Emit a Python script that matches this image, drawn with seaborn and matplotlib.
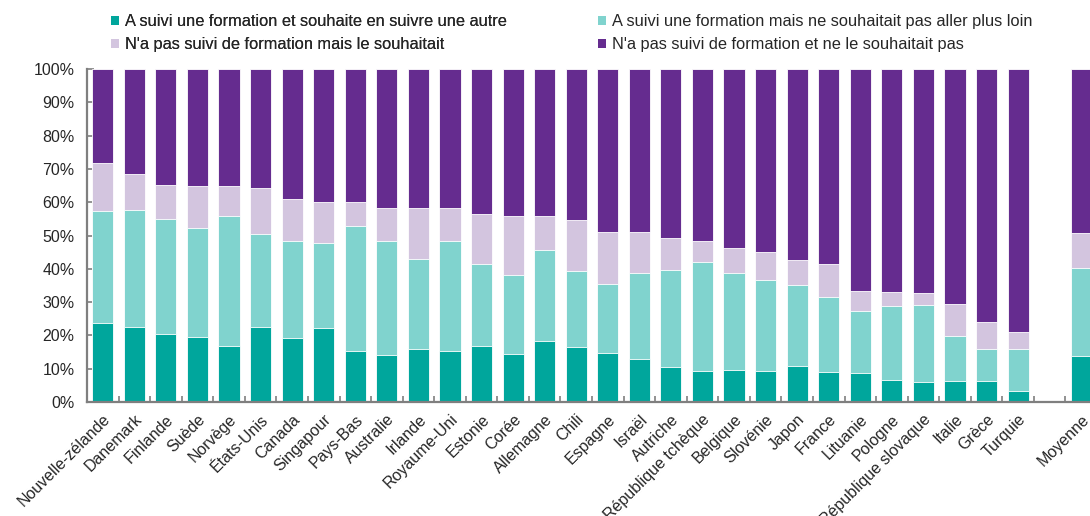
import numpy as np
import pandas as pd
import matplotlib
matplotlib.use("Agg")
import matplotlib.pyplot as plt
from matplotlib.patches import Patch
from matplotlib.ticker import FixedLocator, PercentFormatter
import seaborn as sns

countries = ["Nouvelle-zélande", "Danemark", "Finlande", "Suède", "Norvège", "États-Unis",
             "Canada", "Singapour", "Pays-Bas", "Australie", "Irlande", "Royaume-Uni",
             "Estonie", "Corée", "Allemagne", "Chili", "Espagne", "Israël", "Autriche",
             "République tchèque", "Belgique", "Slovénie", "Japon", "France", "Lituanie",
             "Pologne", "République slovaque", "Italie", "Grèce", "Turquie", "Moyenne"]

formation_et_autre = [23.6, 22.6, 20.3, 19.5, 16.8, 22.6, 19.1, 22.2, 15.2, 14.0, 15.9, 15.2,
                      16.8, 14.4, 18.3, 16.4, 14.7, 12.8, 10.5, 9.4, 9.7, 9.4, 10.9, 9.0,
                      8.6, 6.7, 5.9, 6.3, 6.3, 3.2, 13.7]
formation_pas_plus = [33.8, 35.1, 34.8, 32.8, 39.1, 27.8, 29.3, 25.5, 37.6, 34.4, 27.1, 33.2,
                      24.7, 23.6, 27.4, 22.8, 20.6, 26.0, 29.1, 32.5, 29.1, 27.1, 24.1, 22.5,
                      18.7, 22.1, 23.3, 13.6, 9.6, 12.7, 26.6]
pas_formation_souhait = [14.3, 10.9, 10.0, 12.5, 8.9, 14.0, 12.5, 12.4, 7.3, 9.8, 15.2, 9.8,
                         15.1, 17.9, 10.2, 15.5, 15.8, 12.3, 9.6, 6.5, 7.3, 8.5, 7.6, 10.0,
                         6.1, 4.2, 3.4, 9.6, 8.2, 5.1, 10.5]
pas_formation_pas_souhait = [28.3, 31.4, 34.9, 35.2, 35.2, 35.6, 39.1, 39.9, 39.9, 41.8, 41.8, 41.8,
                             43.4, 44.1, 44.1, 45.3, 48.9, 48.9, 50.8, 51.6, 53.9, 55.0, 57.4, 58.5,
                             66.6, 67.0, 67.4, 70.5, 75.9, 79.0, 49.2]

series_labels = ["A suivi une formation et souhaite en suivre une autre",
                 "A suivi une formation mais ne souhaitait pas aller plus loin",
                 "N'a pas suivi de formation mais le souhaitait",
                 "N'a pas suivi de formation et ne le souhaitait pas"]
colors = ["#00A69C", "#80D3CE", "#D3C5DF", "#652C8F"]

df = pd.DataFrame({"pays": countries,
                   "s1": formation_et_autre, "s2": formation_pas_plus,
                   "s3": pas_formation_souhait, "s4": pas_formation_pas_souhait})
df["c1"] = df["s1"]
df["c2"] = df["c1"] + df["s2"]
df["c3"] = df["c2"] + df["s3"]
df["c4"] = df["c3"] + df["s4"]

gap = " "
order = countries[:-1] + [gap] + [countries[-1]]

sns.set_theme(style="white")
plt.rcParams["font.family"] = ["Liberation Sans", "DejaVu Sans"]

fig = plt.figure(figsize=(10.9, 5.16), dpi=100)
ax = fig.add_axes([87 / 1090, 114 / 516, 1010 / 1090, 333 / 516])

for col, color in zip(["c4", "c3", "c2", "c1"], colors[::-1]):
    sns.barplot(data=df, x="pays", y=col, order=order, color=color, width=0.67,
                edgecolor="white", linewidth=0.6, saturation=1, ax=ax, errorbar=None)

n = len(order)
ax.set_xlim(-0.5, n - 0.5)
ax.set_ylim(0, 100)
ax.set_xlabel("")
ax.set_ylabel("")

ax.yaxis.set_major_locator(FixedLocator(np.arange(0, 101, 10)))
ax.yaxis.set_major_formatter(PercentFormatter(decimals=0))
ax.tick_params(axis="y", direction="in", length=5, width=1.2, color="#7f7f7f",
               labelsize=11.5, pad=9, left=True)

ax.set_xticks(np.arange(n))
ax.set_xticklabels(order, rotation=45, ha="right", rotation_mode="anchor", fontsize=11.5)
ax.tick_params(axis="x", which="major", length=0, pad=7)
ax.set_xticks(np.arange(n + 1) - 0.5, minor=True)
ax.tick_params(axis="x", which="minor", direction="in", length=4, width=1.2,
               color="#7f7f7f", bottom=True)

for s in ["top", "right"]:
    ax.spines[s].set_visible(False)
for s in ["left", "bottom"]:
    ax.spines[s].set_color("#7f7f7f")
    ax.spines[s].set_linewidth(1.6)

handles = [Patch(facecolor=c, edgecolor="none") for c in colors]
leg_kw = dict(frameon=False, fontsize=11.8, handlelength=0.5, handleheight=0.5,
              handletextpad=0.35, labelspacing=0.5, borderaxespad=0, borderpad=0,
              loc="upper left")
leg1 = fig.legend([handles[0], handles[2]], [series_labels[0], series_labels[2]],
                  bbox_to_anchor=(111 / 1090, 1 - 14 / 516), **leg_kw)
fig.add_artist(leg1)
leg2 = fig.legend([handles[1], handles[3]], [series_labels[1], series_labels[3]],
                  bbox_to_anchor=(598 / 1090, 1 - 14 / 516), **leg_kw)

fig.savefig("out.png", dpi=100)
